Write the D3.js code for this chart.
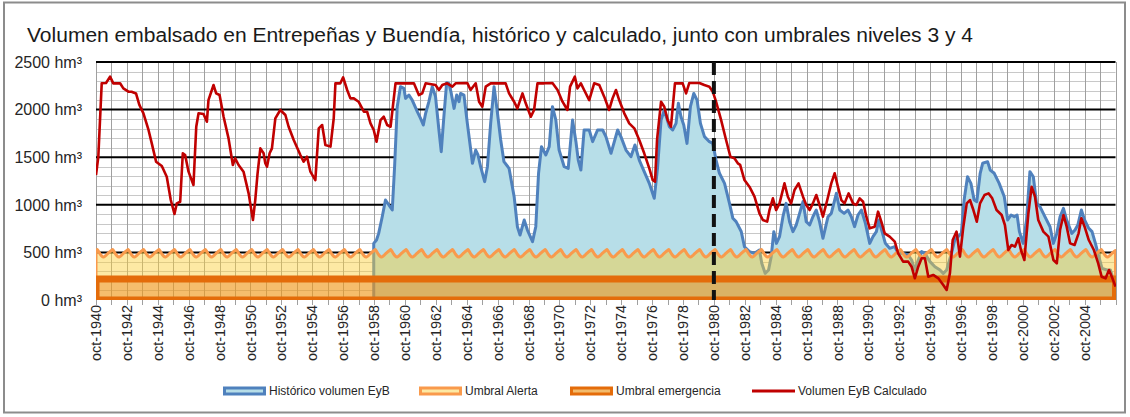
<!DOCTYPE html>
<html><head><meta charset="utf-8">
<script src="https://cdn.jsdelivr.net/npm/d3@7"></script>
<style>
html,body{margin:0;padding:0;background:#fff}
svg{display:block;font-family:Arial,"Liberation Sans",sans-serif}
</style>
</head><body>
<svg id="chart" width="1130" height="417"></svg>
<script>
// ---------------- data ----------------
const titleText = "Volumen embalsado en Entrepeñas y Buendía, histórico y calculado, junto con umbrales niveles 3 y 4";
const yTickValues = [0, 500, 1000, 1500, 2000, 2500];
const yTickLabels = ["0 hm³", "500 hm³", "1000 hm³", "1500 hm³", "2000 hm³", "2500 hm³"];
const xLabelYears = [1940,1942,1944,1946,1948,1950,1952,1954,1956,1958,1960,1962,1964,1966,1968,1970,1972,1974,1976,1978,1980,1982,1984,1986,1988,1990,1992,1994,1996,1998,2000,2002,2004];
const xLabels = xLabelYears.map(y => "oct-" + y);
const startYear = 1940.75;   // oct-1940
const endYear = 2006.75;     // oct-2006
const cutYear = 1980.75;     // dashed vertical line (oct-1980)
const seriesNames = ["Histórico volumen EyB", "Umbral Alerta", "Umbral emergencia", "Volumen EyB Calculado"];

// monthly alert threshold, hydrological year oct..sep (hm³)
const alertaMensual = [520, 530, 510, 488, 468, 455, 452, 460, 472, 486, 498, 510];
// emergency threshold (hm³)
const emergencia = 220;

// historical volume [decimal year, hm³]
const historico = [
[1958.73,595],[1958.91,630],[1959.05,700],[1959.28,875],[1959.49,1050],[1959.71,998],[1959.93,945],
[1960.08,1400],[1960.25,2030],[1960.46,2241],[1960.68,2223],[1960.79,2118],[1961.01,2153],[1961.22,2100],
[1961.55,1978],[1961.76,1908],[1961.94,1838],[1962.09,1961],[1962.3,2083],[1962.52,2241],[1962.73,2136],
[1962.95,1786],[1963.1,1558],[1963.27,1925],[1963.45,2283],[1963.6,2276],[1963.75,2170],[1963.93,2013],
[1964.1,2153],[1964.25,2083],[1964.35,2170],[1964.57,2153],[1964.79,1855],[1965.12,1436],[1965.33,1575],
[1965.48,1523],[1965.65,1400],[1965.91,1243],[1966.09,1400],[1966.3,1855],[1966.52,2241],[1966.69,2030],
[1966.95,1681],[1967.16,1453],[1967.49,1383],[1967.82,1085],[1968.03,770],[1968.2,683],[1968.47,840],
[1968.68,735],[1969.01,613],[1969.22,770],[1969.4,1331],[1969.59,1611],[1969.87,1523],[1970.09,1611],
[1970.3,2030],[1970.52,1890],[1970.73,1575],[1971.06,1400],[1971.32,1383],[1971.6,1890],[1971.82,1663],
[1971.97,1470],[1972.14,1365],[1972.35,1786],[1972.68,1786],[1972.9,1663],[1973.22,1786],[1973.55,1786],
[1973.76,1716],[1974.09,1541],[1974.52,1786],[1974.73,1716],[1975.06,1575],[1975.38,1505],[1975.64,1628],
[1975.92,1470],[1976.24,1348],[1976.57,1225],[1976.89,1068],[1977.11,1400],[1977.33,1890],[1977.54,1996],
[1977.87,1820],[1978.08,1786],[1978.3,1855],[1978.45,2066],[1978.62,1925],[1978.8,1838],[1979.01,1645],
[1979.23,2030],[1979.45,2170],[1979.66,2100],[1979.88,1855],[1980.14,1716],[1980.46,1663],[1980.68,1645],
[1980.89,1470],[1981.11,1331],[1981.44,1225],[1981.76,1015],[1981.98,858],[1982.19,823],[1982.52,720],
[1982.73,560],[1983.05,508],[1983.38,490],[1983.7,525],[1983.85,385],[1984.07,280],[1984.29,315],
[1984.46,455],[1984.63,718],[1984.8,595],[1985.0,665],[1985.22,875],[1985.43,1015],[1985.65,823],
[1985.87,718],[1986.08,788],[1986.3,910],[1986.52,1033],[1986.73,823],[1986.95,788],[1987.16,875],
[1987.38,945],[1987.59,823],[1987.81,648],[1988.14,875],[1988.35,910],[1988.57,1050],[1988.68,1120],
[1988.9,945],[1989.18,910],[1989.43,945],[1989.65,875],[1989.86,770],[1990.08,893],[1990.3,945],
[1990.56,805],[1990.84,595],[1991.05,665],[1991.27,718],[1991.42,840],[1991.64,718],[1991.85,595],
[1992.13,543],[1992.46,560],[1992.68,490],[1993.0,490],[1993.33,473],[1993.55,420],[1993.76,315],
[1993.98,420],[1994.2,508],[1994.41,490],[1994.74,403],[1995.06,350],[1995.39,315],[1995.6,280],
[1995.82,315],[1996.13,490],[1996.34,630],[1996.56,665],[1996.77,700],[1996.95,1050],[1997.17,1295],
[1997.39,1225],[1997.6,1050],[1997.77,1033],[1997.99,1331],[1998.15,1436],[1998.47,1453],[1998.64,1365],
[1998.9,1331],[1999.22,1225],[1999.55,1085],[1999.77,840],[1999.99,893],[2000.2,875],[2000.38,893],
[2000.53,718],[2000.77,595],[2000.99,840],[2001.21,1348],[2001.43,1295],[2001.64,1015],[2001.86,980],
[2002.18,875],[2002.51,770],[2002.73,595],[2002.95,700],[2003.16,875],[2003.38,963],[2003.59,840],
[2003.92,700],[2004.13,735],[2004.31,788],[2004.54,945],[2004.75,840],[2005.02,753],[2005.23,718],
[2005.45,595],[2005.67,455],[2005.88,333],[2006.2,315],[2006.42,315],[2006.64,200]
];

// calculated volume [decimal year, hm³]
const calculado = [
[1940.75,1313],[1940.9,1505],[1941.12,2276],[1941.4,2280],[1941.66,2346],[1941.87,2276],[1942.31,2276],
[1942.52,2223],[1942.85,2188],[1943.05,2188],[1943.34,2170],[1943.56,2048],[1943.82,1960],[1944.15,1786],
[1944.36,1645],[1944.64,1453],[1945.01,1407],[1945.33,1295],[1945.59,1050],[1945.83,903],[1945.98,1015],
[1946.2,1032],[1946.37,1541],[1946.52,1523],[1946.74,1348],[1947.06,1208],[1947.24,1820],[1947.39,1961],
[1947.71,1953],[1947.93,1873],[1948.03,2100],[1948.36,2258],[1948.53,2171],[1948.75,2153],[1949.01,1925],
[1949.33,1698],[1949.61,1418],[1949.76,1488],[1949.98,1418],[1950.3,1348],[1950.63,1120],[1950.91,840],
[1951.06,1050],[1951.21,1331],[1951.39,1593],[1951.6,1541],[1951.71,1436],[1951.82,1400],[1951.99,1541],
[1952.14,1593],[1952.36,1908],[1952.68,1996],[1953.01,1943],[1953.22,1820],[1953.55,1681],[1953.98,1523],
[1954.19,1453],[1954.41,1505],[1954.63,1348],[1954.95,1260],[1955.17,1803],[1955.39,1838],[1955.6,1628],
[1955.93,1611],[1956.14,1908],[1956.25,2276],[1956.57,2276],[1956.75,2339],[1957.01,2206],[1957.22,2118],
[1957.44,2118],[1957.75,2083],[1958.09,1978],[1958.3,1978],[1958.52,1855],[1958.73,1786],[1958.91,1663],
[1959.17,1890],[1959.38,1925],[1959.6,1838],[1959.82,1820],[1960.14,2276],[1960.68,2276],[1961.33,2276],
[1961.65,2153],[1961.87,2170],[1962.09,2276],[1962.73,2258],[1962.95,2206],[1963.17,2258],[1963.49,2276],
[1963.82,2241],[1964.03,2276],[1964.79,2280],[1965.0,2206],[1965.33,2276],[1965.55,2083],[1965.76,2030],
[1965.98,2241],[1966.3,2276],[1967.27,2276],[1967.49,2170],[1967.82,2083],[1968.03,2013],[1968.36,2170],
[1968.57,2066],[1968.9,1925],[1969.11,1996],[1969.33,2276],[1969.76,2276],[1970.3,2280],[1970.63,2206],
[1970.95,2083],[1971.27,1996],[1971.44,2241],[1971.75,2346],[1971.92,2223],[1972.14,2276],[1972.35,2206],
[1972.68,2100],[1973.0,2276],[1973.33,2258],[1973.65,2136],[1973.97,1996],[1974.19,2118],[1974.41,2206],
[1974.62,2100],[1974.95,1961],[1975.27,1855],[1975.6,1803],[1975.92,1681],[1976.24,1541],[1976.57,1383],
[1976.79,1260],[1976.94,1243],[1977.07,1681],[1977.33,2083],[1977.54,2030],[1977.76,1890],[1977.97,1820],
[1978.23,2276],[1978.73,2276],[1978.95,2170],[1979.16,2280],[1979.81,2280],[1980.13,2258],[1980.46,2241],
[1980.68,2188],[1980.89,2083],[1981.22,1890],[1981.54,1681],[1981.82,1505],[1982.08,1488],[1982.3,1436],
[1982.45,1420],[1982.73,1260],[1983.05,1190],[1983.38,1085],[1983.7,910],[1983.92,840],[1984.2,823],
[1984.35,945],[1984.57,1068],[1984.78,945],[1985.0,1015],[1985.32,1225],[1985.54,1085],[1985.75,1015],
[1985.97,1155],[1986.23,1225],[1986.52,1085],[1986.73,998],[1986.95,945],[1987.16,1015],[1987.38,1103],
[1987.59,998],[1987.81,875],[1988.09,1050],[1988.35,1225],[1988.57,1331],[1988.78,1190],[1989.0,1050],
[1989.21,1015],[1989.47,1120],[1989.76,1015],[1989.97,998],[1990.19,1068],[1990.41,1032],[1990.62,875],
[1990.84,753],[1991.16,770],[1991.38,928],[1991.59,823],[1991.81,700],[1992.13,665],[1992.46,613],
[1992.68,490],[1993.0,403],[1993.33,403],[1993.55,350],[1993.76,228],[1993.98,350],[1994.2,438],
[1994.41,438],[1994.63,245],[1994.95,263],[1995.28,228],[1995.6,158],[1995.82,105],[1996.03,280],
[1996.21,630],[1996.46,718],[1996.68,455],[1996.9,770],[1997.12,1015],[1997.33,1050],[1997.55,945],
[1997.77,823],[1997.98,1015],[1998.27,1103],[1998.53,1120],[1998.77,1068],[1999.05,945],[1999.38,893],
[1999.59,788],[1999.81,525],[2000.02,578],[2000.24,560],[2000.46,648],[2000.63,525],[2000.85,420],
[2001.11,910],[2001.32,1190],[2001.54,1085],[2001.75,840],[2002.08,718],[2002.41,665],[2002.73,420],
[2002.95,385],[2003.16,735],[2003.38,893],[2003.59,770],[2003.81,595],[2004.1,578],[2004.36,700],
[2004.54,858],[2004.75,770],[2005.02,630],[2005.35,525],[2005.63,385],[2005.85,245],[2006.11,228],
[2006.33,315],[2006.55,228],[2006.75,140]
];

// ---------------- chart ----------------
const svg = d3.select("#chart");
const plot = {left: 96, right: 1115.5, top: 62, bottom: 300};

const x = d3.scaleLinear().domain([startYear, endYear]).range([plot.left, plot.right]);
const y = d3.scaleLinear().domain([0, 2500]).range([plot.bottom, plot.top]);

// outer frame
svg.append("rect").attr("x", 4).attr("y", 2.5).attr("width", 1121).attr("height", 410)
  .attr("fill", "#fff").attr("stroke", "#8c8c8c").attr("stroke-width", 2);

// title
svg.append("text").attr("x", 27).attr("y", 42).attr("font-size", 20).attr("fill", "#1a1a1a")
  .attr("textLength", 946).attr("lengthAdjust", "spacingAndGlyphs").text(titleText);

const defs = svg.append("defs");
defs.append("clipPath").attr("id", "clipPlot").append("rect")
  .attr("x", plot.left).attr("y", plot.top - 2).attr("width", plot.right - plot.left + 0.5).attr("height", plot.bottom - plot.top + 2);

const g = svg.append("g");

// minor horizontal gridlines (every 100)
const minorY = d3.range(100, 2500, 100).filter(v => v % 500 !== 0);
g.append("g").selectAll("line").data(minorY).join("line")
  .attr("x1", plot.left).attr("x2", plot.right)
  .attr("y1", d => Math.round(y(d)) + 0.5).attr("y2", d => Math.round(y(d)) + 0.5)
  .attr("stroke", "#c8c8c8").attr("stroke-width", 1);

// vertical gridlines (every year, oct)
const yearTicks = d3.range(startYear, endYear + 0.01, 1);
g.append("g").selectAll("line").data(yearTicks).join("line")
  .attr("x1", d => Math.round(x(d)) + 0.5).attr("x2", d => Math.round(x(d)) + 0.5)
  .attr("y1", plot.top).attr("y2", plot.bottom)
  .attr("stroke", "#a0a0a0").attr("stroke-width", 1);

// major horizontal gridlines
g.append("g").selectAll("line").data(yTickValues.filter(v => v > 0)).join("line")
  .attr("x1", plot.left).attr("x2", plot.right)
  .attr("y1", d => y(d)).attr("y2", d => y(d))
  .attr("stroke", "#000").attr("stroke-width", 2);

// x-axis ticks
g.append("g").selectAll("line").data(yearTicks).join("line")
  .attr("x1", d => Math.round(x(d)) + 0.5).attr("x2", d => Math.round(x(d)) + 0.5)
  .attr("y1", plot.bottom).attr("y2", plot.bottom + 5)
  .attr("stroke", "#a0a0a0").attr("stroke-width", 1);

const clipped = svg.append("g").attr("clip-path", "url(#clipPlot)");

// closed area (path ends with Z, so the stroke outlines the whole shape)
const areaGen = d3.area().x(d => x(d[0])).y0(y(0)).y1(d => y(d[1])).curve(d3.curveLinear);

// historical area (opaque)
clipped.append("path").datum(historico).attr("d", areaGen)
  .attr("fill", "#b7dee8").attr("stroke", "#4f81bd").attr("stroke-width", 3).attr("stroke-linejoin", "round");

// alert threshold series (monthly pattern repeated each hydrological year)
const nMonths = Math.round((endYear - startYear) * 12);
const alerta = d3.range(nMonths + 1).map(m => [startYear + m / 12, alertaMensual[m % 12]]);
clipped.append("path").datum(alerta).attr("d", areaGen)
  .attr("fill", "rgba(251,207,53,0.45)").attr("stroke", "#f99a4c").attr("stroke-width", 3)
  .attr("stroke-linejoin", "round");

// emergency threshold
const emerg = [[startYear, emergencia], [endYear, emergencia]];
clipped.append("path").datum(emerg).attr("d", areaGen)
  .attr("fill", "rgba(228,108,10,0.35)").attr("stroke", "#e46c0a").attr("stroke-width", 7);

// dashed cut line at oct-1980
svg.append("line").attr("x1", x(cutYear)).attr("x2", x(cutYear))
  .attr("y1", plot.top).attr("y2", plot.bottom)
  .attr("stroke", "#111").attr("stroke-width", 4).attr("stroke-dasharray", "13,6");

// calculated line
clipped.append("path").datum(calculado)
  .attr("d", d3.line().x(d => x(d[0])).y(d => y(d[1])))
  .attr("fill", "none").attr("stroke", "#c00000").attr("stroke-width", 2.6).attr("stroke-linejoin", "round");

// y-axis labels
svg.append("g").selectAll("text").data(yTickValues).join("text")
  .attr("x", 82).attr("y", d => y(d)).attr("dy", "0.36em")
  .attr("text-anchor", "end").attr("font-size", 16).attr("fill", "#262626")
  .text((d, i) => yTickLabels[i]);

// x-axis labels (rotated)
svg.append("g").selectAll("text").data(xLabelYears).join("text")
  .attr("transform", d => `translate(${x(d + 0.75)},${plot.bottom + 5}) rotate(-90)`)
  .attr("dy", "0.36em").attr("text-anchor", "end")
  .attr("font-size", 14).attr("fill", "#262626")
  .attr("textLength", 56).attr("lengthAdjust", "spacingAndGlyphs")
  .text((d, i) => xLabels[i]);

// legend
const legY = 391;
const legendItems = [
  {name: seriesNames[0], x: 223, fill: "#b7dee8", stroke: "#4f81bd", type: "area"},
  {name: seriesNames[1], x: 419, fill: "#fde9a4", stroke: "#f99a4c", type: "area"},
  {name: seriesNames[2], x: 570, fill: "#f3bb6c", stroke: "#e46c0a", type: "area"},
  {name: seriesNames[3], x: 752, stroke: "#c00000", type: "line"}
];
const leg = svg.append("g");
legendItems.forEach(it => {
  if (it.type === "area") {
    leg.append("rect").attr("x", it.x + 1.5).attr("y", legY - 3).attr("width", 40).attr("height", 6)
      .attr("fill", it.fill).attr("stroke", it.stroke).attr("stroke-width", 3);
  } else {
    leg.append("line").attr("x1", it.x).attr("x2", it.x + 43).attr("y1", legY).attr("y2", legY)
      .attr("stroke", it.stroke).attr("stroke-width", 3);
  }
  leg.append("text").attr("x", it.x + 46).attr("y", legY).attr("dy", "0.36em")
    .attr("font-size", 12).attr("fill", "#262626").text(it.name);
});
</script>
</body></html>
